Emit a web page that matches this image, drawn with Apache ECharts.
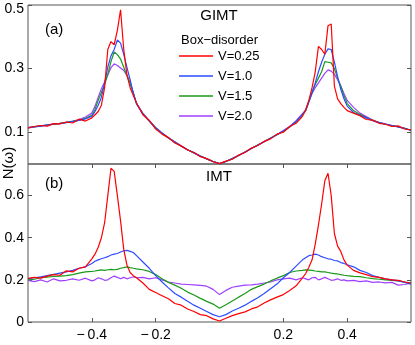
<!DOCTYPE html>
<html><head><meta charset="utf-8">
<script src="https://cdn.jsdelivr.net/npm/echarts@6/dist/echarts.min.js"></script>
<style>html,body{margin:0;padding:0;background:#fff}#c{width:415px;height:345px}</style>
</head><body><div id="c"></div>
<script>
// Frequency grid (ω)
const omega = [-0.60,-0.58,-0.56,-0.54,-0.52,-0.50,-0.48,-0.46,-0.44,-0.42,-0.40,
 -0.39,-0.38,-0.37,-0.36,-0.35,-0.34,-0.33,-0.32,-0.31,-0.30,-0.29,-0.28,-0.27,
 -0.26,-0.24,-0.22,-0.20,-0.18,-0.16,-0.14,-0.12,-0.10,-0.08,-0.06,-0.04,-0.02,0.00,0.02,0.04,0.06,0.08,0.10,0.12,0.14,0.16,0.18,0.20,0.22,0.24,0.26,
 0.27,0.28,0.29,0.30,0.31,0.32,0.33,0.34,0.35,0.36,0.37,0.38,0.39,
 0.40,0.42,0.44,0.46,0.48,0.50,0.52,0.54,0.56,0.58,0.60];

const seriesNames = ['V=0.25','V=1.0','V=1.5','V=2.0'];
const colors = ['#ff0000','#2d4cff','#1a9a1a','#a040ff'];

// (a) GIMT
const gimtV025 = [0.113,0.118,0.121,0.119,0.127,0.126,0.132,0.129,0.141,0.135,0.145,
 0.155,0.165,0.185,0.24,0.36,0.385,0.375,0.42,0.485,0.36,0.28,0.24,0.215,
 0.192,0.155,0.137,0.11,0.094,0.083,0.066,0.057,0.044,0.036,0.023,0.017,0.007,0.001,0.009,0.015,0.028,0.036,0.05,0.058,0.071,0.079,0.094,0.1,0.118,0.128,0.15,
 0.17,0.2,0.24,0.29,0.37,0.36,0.345,0.435,0.44,0.245,0.205,0.19,0.178,
 0.168,0.16,0.152,0.14,0.138,0.128,0.125,0.118,0.12,0.11,0.107];
const gimtV10 = [0.114,0.117,0.119,0.122,0.125,0.127,0.13,0.133,0.137,0.142,0.15,
 0.165,0.185,0.21,0.255,0.305,0.34,0.36,0.39,0.38,0.345,0.304,0.265,0.222,
 0.19,0.157,0.135,0.113,0.097,0.082,0.069,0.056,0.045,0.035,0.025,0.016,0.008,0.001,0.008,0.017,0.027,0.038,0.049,0.06,0.07,0.081,0.092,0.104,0.117,0.134,0.156,
 0.168,0.195,0.225,0.255,0.29,0.32,0.345,0.362,0.36,0.32,0.275,0.235,0.205,
 0.182,0.162,0.153,0.145,0.136,0.13,0.125,0.121,0.117,0.112,0.106];
const gimtV15 = [0.114,0.117,0.12,0.122,0.125,0.128,0.131,0.134,0.138,0.144,0.153,
 0.172,0.2,0.225,0.25,0.282,0.322,0.352,0.344,0.33,0.304,0.278,0.254,0.222,
 0.19,0.158,0.135,0.114,0.097,0.082,0.069,0.056,0.045,0.035,0.025,0.016,0.008,0.001,0.008,0.017,0.027,0.038,0.049,0.06,0.07,0.081,0.092,0.103,0.116,0.133,0.155,
 0.168,0.196,0.225,0.25,0.27,0.29,0.322,0.32,0.318,0.3,0.27,0.245,0.215,
 0.19,0.168,0.156,0.146,0.137,0.13,0.125,0.121,0.117,0.112,0.106];
const gimtV20 = [0.115,0.118,0.12,0.123,0.126,0.128,0.131,0.135,0.14,0.148,0.16,
 0.182,0.21,0.237,0.258,0.28,0.303,0.315,0.31,0.302,0.294,0.278,0.255,0.225,
 0.19,0.16,0.136,0.115,0.098,0.083,0.07,0.057,0.045,0.035,0.025,0.016,0.008,0.001,0.008,0.017,0.027,0.038,0.049,0.06,0.071,0.082,0.093,0.105,0.118,0.136,0.158,
 0.17,0.198,0.222,0.24,0.255,0.27,0.285,0.296,0.292,0.282,0.265,0.245,0.222,
 0.2,0.178,0.16,0.149,0.138,0.131,0.126,0.121,0.117,0.112,0.106];

// (b) IMT
const imtV025 = [0.207,0.212,0.208,0.218,0.225,0.222,0.243,0.238,0.255,0.262,0.3,
 0.322,0.355,0.4,0.47,0.6,0.73,0.715,0.6,0.48,0.345,0.27,0.235,0.22,
 0.21,0.185,0.155,0.14,0.125,0.11,0.088,0.08,0.062,0.05,0.035,0.03,0.015,0.005,0.018,0.03,0.04,0.048,0.062,0.072,0.09,0.105,0.118,0.13,0.15,0.172,0.21,
 0.23,0.26,0.295,0.37,0.46,0.56,0.67,0.706,0.6,0.42,0.36,0.335,0.295,
 0.27,0.245,0.233,0.225,0.215,0.212,0.205,0.2,0.198,0.19,0.184];
const imtV10 = [0.205,0.21,0.214,0.22,0.226,0.232,0.238,0.245,0.255,0.262,0.278,
 0.288,0.295,0.3,0.305,0.31,0.318,0.322,0.325,0.332,0.338,0.34,0.335,0.33,
 0.315,0.285,0.255,0.22,0.19,0.162,0.135,0.118,0.098,0.08,0.065,0.05,0.035,0.025,0.035,0.052,0.065,0.08,0.098,0.115,0.135,0.158,0.18,0.21,0.235,0.265,0.295,
 0.305,0.315,0.318,0.322,0.318,0.31,0.305,0.3,0.298,0.292,0.29,0.282,0.278,
 0.272,0.262,0.245,0.235,0.22,0.212,0.205,0.2,0.195,0.188,0.18];
const imtV15 = [0.2,0.203,0.21,0.213,0.216,0.218,0.22,0.225,0.232,0.238,0.24,
 0.242,0.245,0.247,0.245,0.248,0.25,0.248,0.25,0.255,0.258,0.262,0.258,0.255,
 0.252,0.248,0.24,0.225,0.205,0.188,0.175,0.16,0.142,0.128,0.112,0.098,0.085,0.065,0.082,0.1,0.118,0.135,0.155,0.168,0.18,0.195,0.208,0.22,0.235,0.242,0.245,
 0.247,0.246,0.245,0.242,0.24,0.238,0.238,0.235,0.232,0.23,0.228,0.225,0.222,
 0.22,0.217,0.215,0.21,0.206,0.203,0.2,0.198,0.195,0.19,0.186];
const imtV20 = [0.198,0.192,0.2,0.19,0.205,0.195,0.198,0.205,0.198,0.208,0.195,
 0.2,0.21,0.205,0.198,0.2,0.21,0.218,0.212,0.205,0.212,0.205,0.21,0.215,
 0.21,0.212,0.205,0.21,0.2,0.19,0.185,0.18,0.178,0.176,0.174,0.17,0.155,0.13,0.15,0.165,0.17,0.175,0.176,0.18,0.185,0.19,0.2,0.205,0.208,0.2,0.21,
 0.205,0.2,0.21,0.212,0.2,0.205,0.212,0.205,0.198,0.2,0.205,0.198,0.2,
 0.195,0.198,0.192,0.195,0.188,0.19,0.186,0.188,0.175,0.178,0.184];

const xTicks = [-0.4,-0.2,0.2,0.4];
const yTicksTop = [0.1,0.3,0.5];
const yTicksBottom = [0,0.2,0.4,0.6];

const FONT = 'Liberation Sans, Arial, Helvetica, sans-serif';
const FRAME = '#555';
const fmt = v => (v < 0 ? '\u2212\u2009' : '') + String(Math.abs(v));

const gimt = [gimtV025, gimtV10, gimtV15, gimtV20];
const imt = [imtV025, imtV10, imtV15, imtV20];
const pairs = arr => omega.map((w, i) => [w, arr[i]]);

const series = [];
gimt.forEach((arr, k) => series.push({
  name: seriesNames[k], type: 'line', xAxisIndex: 0, yAxisIndex: 0,
  data: pairs(arr), showSymbol: false, symbol: 'none', z: 10 - k,
  lineStyle: { width: 1.2, color: colors[k] }, itemStyle: { color: colors[k] }
}));
imt.forEach((arr, k) => series.push({
  name: seriesNames[k], type: 'line', xAxisIndex: 1, yAxisIndex: 2,
  data: pairs(arr), showSymbol: false, symbol: 'none', z: 10 - k,
  lineStyle: { width: 1.2, color: colors[k] }, itemStyle: { color: colors[k] }
}));

const tickStyle = { color: FRAME, width: 1 };
const noLine = { show: false, onZero: false };
const chart = echarts.init(document.getElementById('c'), null, { renderer: 'canvas' });
chart.setOption({
  animation: false,
  backgroundColor: '#fff',
  grid: [
    { left: 28, right: 4, top: 5, height: 159, show: true, borderColor: FRAME, borderWidth: 1, backgroundColor: 'transparent', outerBoundsMode: 'none', containLabel: false },
    { left: 28, right: 4, top: 164, height: 158, show: true, borderColor: FRAME, borderWidth: 1, backgroundColor: 'transparent', outerBoundsMode: 'none', containLabel: false }
  ],
  xAxis: [
    { gridIndex: 0, type: 'value', min: -0.6, max: 0.6, axisLine: noLine, axisTick: { show: false }, axisLabel: { show: false }, splitLine: { show: false } },
    { gridIndex: 1, type: 'value', min: -0.6, max: 0.6, position: 'bottom',
      axisLine: noLine, splitLine: { show: false },
      axisTick: { show: true, inside: true, length: 4, customValues: xTicks, lineStyle: tickStyle },
      axisLabel: { customValues: xTicks, formatter: fmt, margin: 6, fontSize: 14, fontFamily: FONT, color: '#000' },
      name: 'ω', nameLocation: 'middle', nameGap: -3,
      nameTextStyle: { fontSize: 16, fontFamily: 'DejaVu Serif, serif', color: '#000' } },
    { gridIndex: 1, type: 'value', min: -0.6, max: 0.6, position: 'top',
      axisLine: noLine, splitLine: { show: false }, axisLabel: { show: false },
      axisTick: { show: true, inside: true, length: 4, customValues: xTicks, lineStyle: tickStyle } }
  ],
  yAxis: [
    { gridIndex: 0, type: 'value', min: 0, max: 0.5, position: 'left',
      axisLine: noLine, splitLine: { show: false },
      axisTick: { show: true, inside: true, length: 4, customValues: yTicksTop, lineStyle: tickStyle },
      axisLabel: { customValues: yTicksTop, margin: 4, fontSize: 14, fontFamily: FONT, color: '#000',
        formatter: v => (v === 0.5 ? '{t|0.5}' : String(v)),
        rich: { t: { fontSize: 14, fontFamily: FONT, color: '#000', padding: [8, 0, 0, 0] } } } },
    { gridIndex: 0, type: 'value', min: 0, max: 0.5, position: 'right',
      axisLine: noLine, splitLine: { show: false }, axisLabel: { show: false },
      axisTick: { show: true, inside: true, length: 4, customValues: yTicksTop, lineStyle: tickStyle } },
    { gridIndex: 1, type: 'value', min: 0, max: 0.75, position: 'left',
      axisLine: noLine, splitLine: { show: false },
      axisTick: { show: true, inside: true, length: 4, customValues: yTicksBottom, lineStyle: tickStyle },
      axisLabel: { customValues: yTicksBottom, margin: 4, fontSize: 14, fontFamily: FONT, color: '#000', formatter: v => String(v) } },
    { gridIndex: 1, type: 'value', min: 0, max: 0.75, position: 'right',
      axisLine: noLine, splitLine: { show: false }, axisLabel: { show: false },
      axisTick: { show: true, inside: true, length: 4, customValues: yTicksBottom, lineStyle: tickStyle } }
  ],
  legend: {
    data: seriesNames, orient: 'vertical', left: 179, top: 49,
    icon: 'rect', itemWidth: 34, itemHeight: 1.5, itemGap: 6, padding: 0,
    textStyle: { fontSize: 13, lineHeight: 14, fontFamily: FONT, color: '#000' }
  },
  graphic: [
    { type: 'text', x: 219, y: 16, style: { text: 'GIMT', fontSize: 15, fontFamily: FONT, fill: '#000', align: 'center', verticalAlign: 'middle' } },
    { type: 'text', x: 219, y: 177, style: { text: 'IMT', fontSize: 15, fontFamily: FONT, fill: '#000', align: 'center', verticalAlign: 'middle' } },
    { type: 'text', x: 45, y: 30, style: { text: '(a)', fontSize: 15, fontFamily: FONT, fill: '#000', align: 'left', verticalAlign: 'middle' } },
    { type: 'text', x: 45, y: 184, style: { text: '(b)', fontSize: 15, fontFamily: FONT, fill: '#000', align: 'left', verticalAlign: 'middle' } },
    { type: 'text', x: 181, y: 40, style: { text: 'Box\u2212disorder', fontSize: 13, fontFamily: FONT, fill: '#000', align: 'left', verticalAlign: 'middle' } },
    { type: 'text', x: 9, y: 163, rotation: Math.PI / 2, style: { text: 'N(ω)', fontSize: 15, fontFamily: FONT, fill: '#000', align: 'center', verticalAlign: 'middle' } }
  ],
  series: series
});
</script>
</body></html>
